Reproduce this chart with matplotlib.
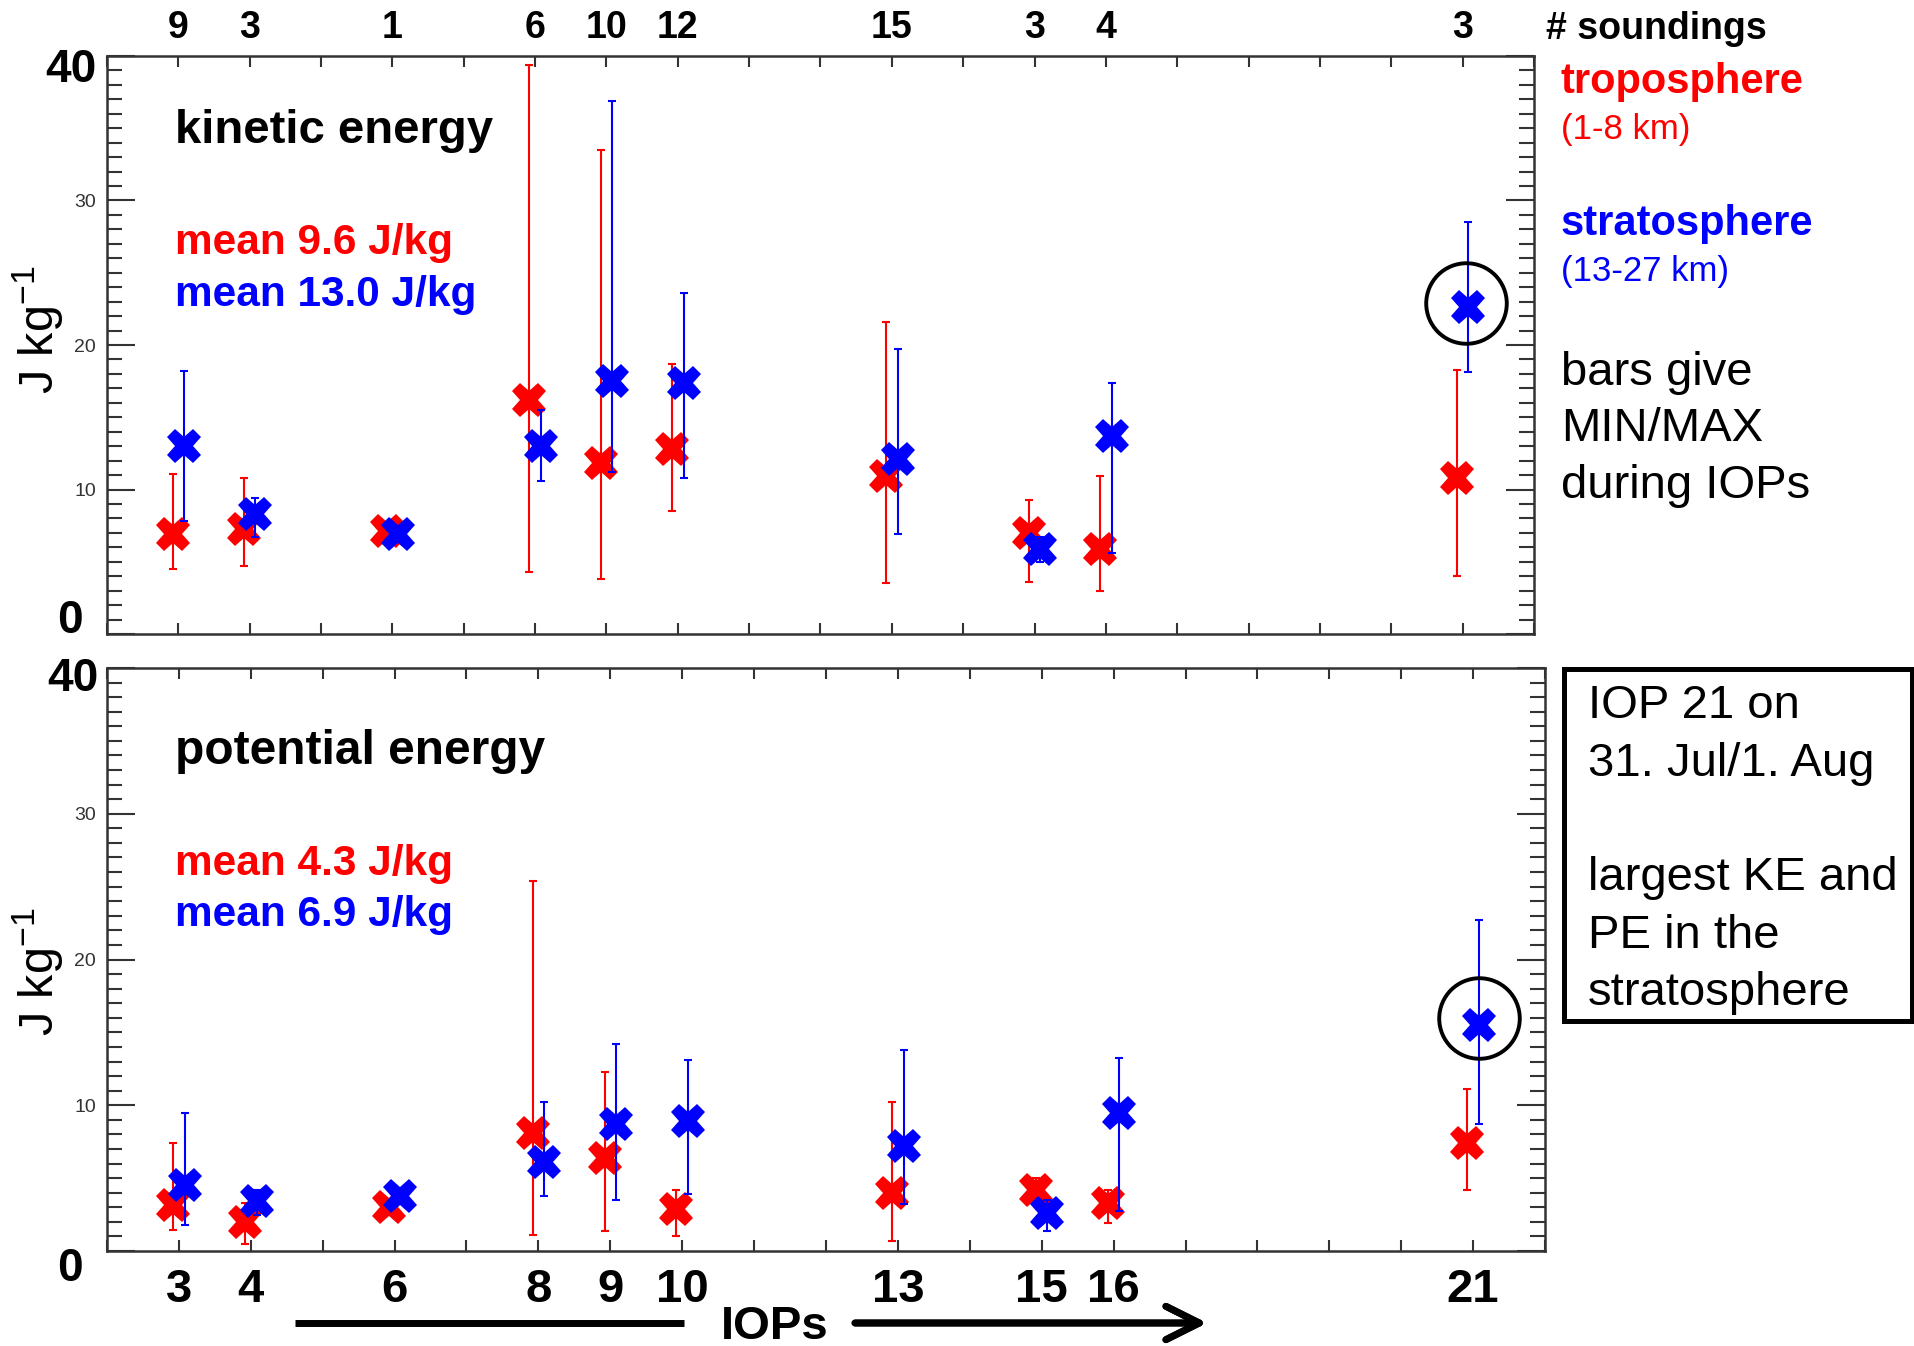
import matplotlib
matplotlib.use('Agg')
import matplotlib.pyplot as plt
from matplotlib.patches import Rectangle
from matplotlib.lines import Line2D
import numpy as np

plt.rcParams['font.family'] = ['Liberation Sans', 'DejaVu Sans']
plt.rcParams['mathtext.default'] = 'regular'

# IOP numbers and number of soundings per IOP
iops = [3, 4, 6, 8, 9, 10, 13, 15, 16, 21]
soundings = [9, 3, 1, 6, 10, 12, 15, 3, 4, 3]

# kinetic energy (J/kg): troposphere (red) and stratosphere (blue)
ke_trop_mean = [6.9, 7.3, 7.1, 16.2, 11.8, 12.8, 10.95, 7.0, 5.9, 10.8]
ke_trop_min = [4.5, 4.7, 7.1, 4.3, 3.8, 8.5, 3.5, 3.6, 3.0, 4.0]
ke_trop_max = [11.1, 10.8, 7.1, 39.4, 33.5, 18.7, 21.6, 9.3, 10.9, 18.3]
ke_strat_mean = [13.0, 8.3, 6.9, 13.0, 17.5, 17.4, 12.1, 5.9, 13.7, 22.6]
ke_strat_min = [7.8, 6.7, 6.9, 10.6, 11.2, 10.8, 6.9, 5.0, 5.6, 18.1]
ke_strat_max = [18.2, 9.4, 6.9, 15.5, 36.9, 23.6, 19.7, 6.7, 17.4, 28.5]

# potential energy (J/kg)
pe_trop_mean = [3.15, 2.0, 3.0, 8.1, 6.4, 2.85, 4.0, 4.2, 3.3, 7.4]
pe_trop_min = [1.45, 0.5, 3.0, 1.1, 1.4, 1.05, 0.7, 3.3, 1.9, 4.2]
pe_trop_max = [7.4, 3.3, 3.0, 25.4, 12.3, 4.2, 10.2, 5.0, 4.2, 11.1]
pe_strat_mean = [4.55, 3.45, 3.8, 6.1, 8.7, 8.9, 7.2, 2.6, 9.5, 15.5]
pe_strat_min = [1.8, 2.45, 3.8, 3.8, 3.5, 3.9, 3.2, 1.4, 2.75, 8.7]
pe_strat_max = [9.5, 4.2, 3.8, 10.2, 14.2, 13.1, 13.8, 3.5, 13.25, 22.7]

# highlighted IOP 21 (circle centres in data units)
circle_x = [21.05, 21.08]
circle_y = [22.9, 16.0]

W, H = 1915, 1346
def fp(x, y):
    # pixel position (from top-left) -> figure fraction
    return x / W, 1 - y / H

def tp(x, y):
    # same, with a small shift for text centred on its box
    return fp(x, y + 4)

fig = plt.figure(figsize=(W / 100, H / 100), dpi=100)
ax1 = fig.add_axes([107 / W, 1 - 634 / H, 1427 / W, 578 / H])
ax2 = fig.add_axes([107 / W, 1 - 1251 / H, 1438 / W, 583 / H])

spine_col = '0.2'
allticks = list(range(2, 23))


def style(ax):
    ax.set_xlim(2, 22)
    ax.set_ylim(0, 40)
    for s in ax.spines.values():
        s.set_linewidth(1.8)
        s.set_color(spine_col)
    ax.set_xticks(allticks)
    ax.set_yticks([0, 10, 20, 30, 40])
    ax.set_yticks(np.arange(0, 41, 1), minor=True)
    ax.set_yticklabels(['', '10', '20', '30', ''])
    ax.tick_params(axis='y', which='major', direction='in', left=True, right=True,
                   length=20, width=1.5, color=spine_col, labelsize=14,
                   labelcolor='0.2', pad=8)
    ax.tick_params(axis='y', which='minor', direction='in', left=True, right=True,
                   length=10.5, width=1.5, color=spine_col)
    ax.tick_params(axis='x', which='major', direction='in', top=True, bottom=True,
                   length=8, width=1.5, color=spine_col)


def draw(ax, tm, tmin, tmax, sm, smin, smax):
    xr = np.array(iops) - 0.08
    xb = np.array(iops) + 0.08
    tm, tmin, tmax = map(np.array, (tm, tmin, tmax))
    sm, smin, smax = map(np.array, (sm, smin, smax))
    ax.errorbar(xr, tm, yerr=[tm - tmin, tmax - tm], fmt='none', ecolor='red',
                elinewidth=1.5, capsize=3, capthick=1.5, zorder=3)
    ax.plot(xr, tm, 'X', color='red', ms=25, mew=0, zorder=4)
    ax.errorbar(xb, sm, yerr=[sm - smin, smax - sm], fmt='none', ecolor='blue',
                elinewidth=1.5, capsize=3, capthick=1.5, zorder=5)
    ax.plot(xb, sm, 'X', color='blue', ms=25, mew=0, zorder=6)


style(ax1)
style(ax2)
draw(ax1, ke_trop_mean, ke_trop_min, ke_trop_max,
     ke_strat_mean, ke_strat_min, ke_strat_max)
draw(ax2, pe_trop_mean, pe_trop_min, pe_trop_max,
     pe_strat_mean, pe_strat_min, pe_strat_max)

ax1.plot(circle_x[0], circle_y[0], 'o', mfc='none', mec='k', ms=58, mew=2.8, zorder=7)
ax2.plot(circle_x[1], circle_y[1], 'o', mfc='none', mec='k', ms=58, mew=2.8, zorder=7)

# top axis: number of soundings
lab_top = [''] * len(allticks)
for i, n in zip(iops, soundings):
    lab_top[allticks.index(i)] = str(n)
ax1.set_xticklabels(lab_top)
ax1.tick_params(axis='x', labeltop=True, labelbottom=False, labelsize=27, pad=7)
for t in ax1.get_xticklabels(which='both'):
    t.set_fontweight('bold')

# bottom axis: IOP numbers
lab_bot = [''] * len(allticks)
for i in iops:
    lab_bot[allticks.index(i)] = str(i)
ax2.set_xticklabels(lab_bot, fontsize=34, fontweight='bold')
ax2.tick_params(axis='x', pad=12)

ax1.set_ylabel('J kg$^{-1}$', fontsize=35, va='center')
ax2.set_ylabel('J kg$^{-1}$', fontsize=35, va='center')
ax1.yaxis.set_label_coords(-69 / 1427, 0.526)
ax2.yaxis.set_label_coords(-69 / 1438, 0.479)

# big 0 / 40 axis labels
for (x, y, s) in [(97, 66, '40'), (83, 617, '0'), (98, 675, '40'), (83, 1265, '0')]:
    fig.text(*tp(x, y), s, fontsize=33, fontweight='bold', ha='right', va='center')

# panel titles and means
fig.text(*tp(175, 127), 'kinetic energy', fontsize=34, fontweight='bold', va='center')
fig.text(*tp(175, 239), 'mean 9.6 J/kg', fontsize=30.5, fontweight='bold', color='red', va='center')
fig.text(*tp(175, 291), 'mean 13.0 J/kg', fontsize=30.5, fontweight='bold', color='blue', va='center')
fig.text(*tp(175, 747), 'potential energy', fontsize=34.5, fontweight='bold', va='center')
fig.text(*tp(175, 860), 'mean 4.3 J/kg', fontsize=30.5, fontweight='bold', color='red', va='center')
fig.text(*tp(175, 911), 'mean 6.9 J/kg', fontsize=30.5, fontweight='bold', color='blue', va='center')

# right-hand annotations
fig.text(*tp(1546, 25), '# soundings', fontsize=27, fontweight='bold', va='center')
fig.text(*tp(1561, 78), 'troposphere', fontsize=30, fontweight='bold', color='red', va='center')
fig.text(*tp(1561, 126), '(1-8 km)', fontsize=25, color='red', va='center')
fig.text(*tp(1561, 220), 'stratosphere', fontsize=30, fontweight='bold', color='blue', va='center')
fig.text(*tp(1561, 267), '(13-27 km)', fontsize=25, color='blue', va='center')
for y, s in [(369, 'bars give'), (425, 'MIN/MAX'), (482, 'during IOPs')]:
    fig.text(*tp(1561, y), s, fontsize=34, va='center')

fig.add_artist(Rectangle(fp(1564, 1021), 348 / W, 352 / H, transform=fig.transFigure,
                         fill=False, lw=3.6, ec='k'))
for y, s in [(702, 'IOP 21 on'), (760, '31. Jul/1. Aug'), (874, 'largest KE and'),
             (932, 'PE in the'), (989, 'stratosphere')]:
    fig.text(*tp(1588, y), s, fontsize=34, va='center')

# IOPs arrow under the lower panel
x0, y0 = fp(295, 1323)
x1, _ = fp(684, 1323)
fig.add_artist(Line2D([x0, x1], [y0, y0], transform=fig.transFigure, lw=5, color='k',
                      solid_capstyle='butt'))
fig.text(*tp(775, 1323), 'IOPs', fontsize=34, fontweight='bold', ha='center', va='center')
fig.add_artist(plt.annotate('', xy=fp(1207, 1323), xytext=fp(855, 1323),
                            xycoords='figure fraction', textcoords='figure fraction',
                            arrowprops=dict(arrowstyle='->,head_length=0.6,head_width=0.3',
                                            lw=5, color='k', shrinkA=0, shrinkB=0,
                                            mutation_scale=40)))

fig.savefig('out.png', dpi=100)
